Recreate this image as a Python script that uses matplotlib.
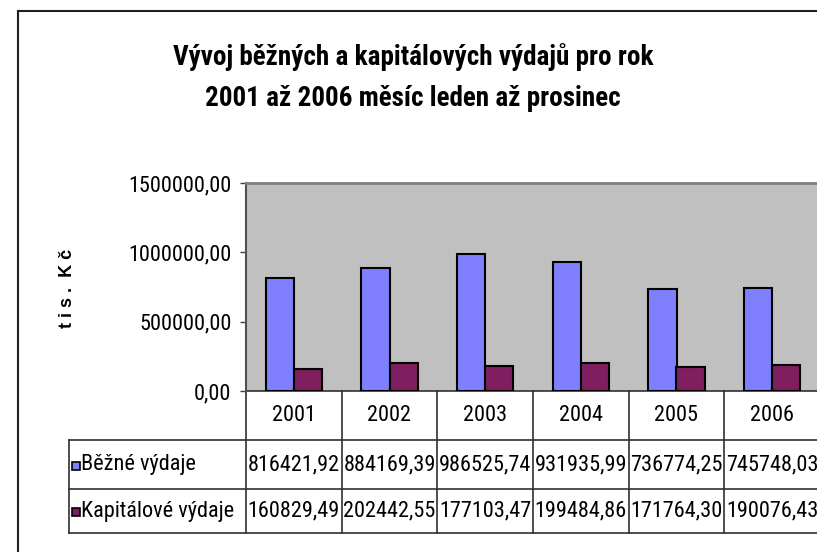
import numpy as np
import matplotlib
matplotlib.use("Agg")
import matplotlib.pyplot as plt
import matplotlib.transforms as mtransforms
import matplotlib.font_manager as fm
from matplotlib.patches import Rectangle

years = ["2001", "2002", "2003", "2004", "2005", "2006"]
bezne = [816421.92, 884169.39, 986525.74, 931935.99, 736774.25, 745748.03]
kapitalove = [160829.49, 202442.55, 177103.47, 199484.86, 171764.30, 190076.43]
series_names = ["Běžné výdaje", "Kapitálové výdaje"]
yticks = [0, 500000, 1000000, 1500000]

# look for a narrow font like Arial Narrow
fonts = fm.fontManager.ttflist
names = {f.name for f in fonts}
stretch = "normal"
if "Liberation Sans Narrow" in names:
    fam = "Liberation Sans Narrow"
elif "Roboto Condensed" in names:
    fam = "Roboto Condensed"
elif any(f.name == "DejaVu Sans" and f.stretch == "condensed" for f in fonts):
    fam, stretch = "DejaVu Sans", "condensed"
else:
    fam = "none"
narrow_ok = fam != "none"
if not narrow_ok:
    fam = "Liberation Sans"
plt.rcParams["font.family"] = [fam, "DejaVu Sans"]
plt.rcParams["font.stretch"] = stretch

fs = 16 if narrow_ok else 13.5
tfs = 19.5 if narrow_ok else 17

W, H = 817, 552
fig = plt.figure(figsize=(W / 100, H / 100), dpi=100)
fig.patch.set_facecolor("white")

def fmt(v):
    return f"{v:.2f}".replace(".", ",")

# chart frame (left and top edges visible)
fig.add_artist(plt.Line2D([18 / W, 18 / W], [0, 1 - 11 / H], color="#202020", lw=1.5))
fig.add_artist(plt.Line2D([18 / W, 1], [1 - 11 / H, 1 - 11 / H], color="#202020", lw=1.5))

fig.text(413 / W, 1 - 57 / H, "Vývoj běžných a kapitálových výdajů pro rok",
         ha="center", va="center", fontsize=tfs, fontweight="bold")
fig.text(413 / W, 1 - 98 / H, "2001 až 2006 měsíc leden až prosinec",
         ha="center", va="center", fontsize=tfs, fontweight="bold")
fig.text(67 / W, 1 - 288 / H, "t i s .  K č", rotation=90, ha="center", va="center",
         fontsize=13, fontweight="bold", family=["Liberation Sans", "DejaVu Sans"],
         stretch="normal")

# plot area
left_px, right_px, top_px, bot_px = 246, 820, 183, 391
ax = fig.add_axes([left_px / W, 1 - bot_px / H, (right_px - left_px) / W, (bot_px - top_px) / H])
ax.set_facecolor("#C0C0C0")
ax.set_xlim(0, 6)
ax.set_ylim(0, 1500000)

x = np.arange(len(years)) + 0.5
bw = 0.293
ax.bar(x - bw / 2, bezne, bw, color="#8080FF", edgecolor="black", lw=1.5, zorder=3)
ax.bar(x + bw / 2, kapitalove, bw, color="#7F1F5F", edgecolor="black", lw=1.5, zorder=3)

ax.set_yticks(yticks)
ax.set_yticklabels([fmt(v) for v in yticks], fontsize=fs)
ax.tick_params(axis="y", direction="out", length=4.5, width=1, color="#404040", pad=6)
ax.set_xticks([])
for s in ["right", "bottom"]:
    ax.spines[s].set_visible(False)
ax.spines["top"].set_color("#808080")
ax.spines["top"].set_linewidth(2)
ax.spines["left"].set_color("#505050")
ax.spines["left"].set_linewidth(1.5)

# data table below the plot
tr = mtransforms.blended_transform_factory(ax.transData, ax.transAxes)
ph = bot_px - top_px
def fy(py):
    return (bot_px - py) / ph

rows = [391, 440, 489, 533]
xleft = -(246 - 69) / 95.7
lc = "#303030"
ax.plot([0, 6.2], [fy(rows[0])] * 2, color=lc, lw=1.2, transform=tr, clip_on=False)
for r in rows[1:]:
    ax.plot([xleft, 6.2], [fy(r)] * 2, color=lc, lw=1.2, transform=tr, clip_on=False)
for i in range(7):
    ax.plot([i, i], [fy(rows[0]), fy(rows[3])], color=lc, lw=1.2, transform=tr, clip_on=False)
ax.plot([xleft, xleft], [fy(rows[1]), fy(rows[3])], color=lc, lw=1.2, transform=tr, clip_on=False)

for xi, yr in zip(x, years):
    ax.text(xi, fy((rows[0] + rows[1]) / 2), yr, ha="center", va="center",
            fontsize=fs, transform=tr, clip_on=False)
table_rows = [bezne, kapitalove]
colors = ["#8080FF", "#7F1F5F"]
for k, (vals, name, c) in enumerate(zip(table_rows, series_names, colors)):
    yc = fy((rows[k + 1] + rows[k + 2]) / 2)
    for xi, v in zip(x, vals):
        ax.text(xi, yc, fmt(v), ha="center", va="center", fontsize=fs,
                transform=tr, clip_on=False)
    sq = 8 / ph
    ax.add_patch(Rectangle((xleft + 3 / 95.7, yc - sq / 2 - 1 / ph), 8 / 95.7, sq,
                           facecolor=c, edgecolor="black", lw=1.2, transform=tr, clip_on=False))
    ax.text(xleft + 12 / 95.7, yc, name, ha="left", va="center", fontsize=fs,
            transform=tr, clip_on=False)

fig.savefig("out.png", dpi=100)
